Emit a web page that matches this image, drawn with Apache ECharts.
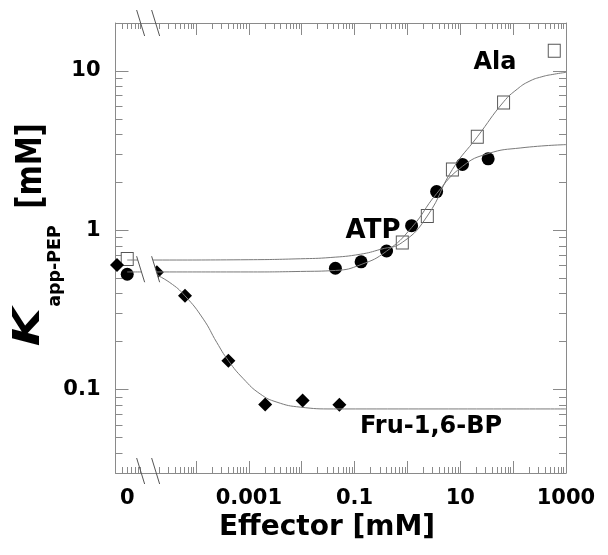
<!DOCTYPE html>
<html><head><meta charset="utf-8">
<script src="https://cdn.jsdelivr.net/npm/echarts@6/dist/echarts.min.js"></script>
<style>html,body{margin:0;padding:0;background:#fff}#c{width:608px;height:555px}</style>
</head><body><div id="c"></div>
<script>
// position used for "effector = 0" on the broken log axis
const ZERO_X = 5e-6;
const FRU_ZERO_X = 3.2e-6;

// tick labels
const xTickValues = [ZERO_X, 0.001, 0.1, 10, 1000];
const xTickText = ['0', '0.001', '0.1', '10', '1000'];
const xMajorTicks = [1e-4, 1e-3, 1e-2, 0.1, 1, 10, 100, 1000];
const yTickValues = [0.1, 1, 10];
const yTickText = ['0.1', '1', '10'];
const yMajorTicks = [0.1, 1, 10];

// measured points
const alaX = [ZERO_X, 0.80, 2.38, 7.1, 21, 66, 600];
const alaY = [0.66, 0.838, 1.23, 2.41, 3.86, 6.35, 13.4];
const atpX = [ZERO_X, 0.0434, 0.133, 0.403, 1.2, 3.57, 11, 33.7];
const atpY = [0.53, 0.578, 0.634, 0.742, 1.07, 1.75, 2.59, 2.81];
const fruX = [FRU_ZERO_X, 1.82e-5, 6.2e-5, 4.1e-4, 2.04e-3, 0.0104, 0.0516];
const fruY = [0.606, 0.546, 0.388, 0.152, 0.0807, 0.0855, 0.0803];

// fitted curves
const alaCurveX = [ZERO_X, 1.6e-5, 1e-3, 9.5e-3, 0.0346, 0.129, 0.31, 0.80, 2.38, 7.1, 21, 66, 120, 200, 350, 600, 1000];
const alaCurveY = [0.651, 0.651, 0.654, 0.663, 0.675, 0.708, 0.76, 0.84, 1.23, 2.41, 3.86, 6.4, 7.7, 8.6, 9.2, 9.55, 9.8];
const atpCurveX = [ZERO_X, 1.6e-5, 1e-3, 9.5e-3, 0.0434, 0.133, 0.403, 1.2, 3.57, 11, 33.7, 140, 1000];
const atpCurveY = [0.548, 0.548, 0.548, 0.552, 0.56, 0.61, 0.74, 1.04, 1.70, 2.52, 3.03, 3.29, 3.45];
const fruCurveX = [1.6e-5, 3.2e-5, 6.19e-5, 1.38e-4, 2.47e-4, 4.1e-4, 7.9e-4, 1.64e-3, 3.4e-3, 9.4e-3, 0.04, 1000];
const fruCurveY = [0.535, 0.47, 0.388, 0.277, 0.198, 0.152, 0.117, 0.094, 0.0835, 0.0777, 0.0757, 0.0757];

const FONT = 'DejaVu Sans';
const AXIS_COLOR = '#8a8a8a';
const LINE_COLOR = '#7a7a7a';
const X_MIN = 3e-6, X_MAX = 1001, Y_MIN = 0.03, Y_MAX = 20;

function pairs(xs, ys) { return xs.map((x, i) => [x, ys[i]]); }
function minorTicks(lo, hi) {
  const out = [];
  for (let k = -7; k <= 3; k++) for (let m = 2; m <= 9; m++) {
    const v = +(m * Math.pow(10, k)).toPrecision(6);
    if (v > lo * 1.0001 && v < hi * 0.9999) out.push(v);
  }
  return out;
}
function nearestText(values, texts) {
  return v => {
    let best = 0;
    values.forEach((t, i) => {
      if (Math.abs(Math.log10(v) - Math.log10(t)) < Math.abs(Math.log10(v) - Math.log10(values[best]))) best = i;
    });
    return texts[best];
  };
}
const xMinor = minorTicks(X_MIN, X_MAX);
const yMinor = minorTicks(Y_MIN, Y_MAX);

const labelStyle = { fontFamily: FONT, fontWeight: 'bold', fontSize: 21, color: '#000' };

function xAxisDef(pos, major) {
  return {
    type: 'log', logBase: 10, min: X_MIN, max: X_MAX, gridIndex: 0, position: pos,
    splitLine: { show: false },
    axisLine: { show: major, lineStyle: { color: AXIS_COLOR, width: 1 } },
    axisTick: { show: true, inside: true, length: major ? 12 : 6,
      customValues: major ? xMajorTicks : xMinor, lineStyle: { color: AXIS_COLOR, width: 1 } },
    axisLabel: (major && pos === 'bottom') ? Object.assign({ show: true, customValues: xTickValues,
      formatter: nearestText(xTickValues, xTickText), margin: 15 }, labelStyle) : { show: false }
  };
}
function yAxisDef(pos, major) {
  return {
    type: 'log', logBase: 10, min: Y_MIN, max: Y_MAX, gridIndex: 0, position: pos,
    splitLine: { show: false },
    axisLine: { show: major, lineStyle: { color: AXIS_COLOR, width: 1 } },
    axisTick: { show: true, inside: true, length: major ? 13 : 7,
      customValues: major ? yMajorTicks : yMinor, lineStyle: { color: AXIS_COLOR, width: 1 } },
    axisLabel: (major && pos === 'left') ? Object.assign({ show: true, customValues: yTickValues,
      formatter: nearestText(yTickValues, yTickText), margin: 15 }, labelStyle) : { show: false }
  };
}

const fitLine = { type: 'line', symbol: 'none', smooth: 0.5, lineStyle: { color: LINE_COLOR, width: 1 } };

const chart = echarts.init(document.getElementById('c'), null, { renderer: 'canvas' });
chart.setOption({
  animation: false,
  backgroundColor: '#fff',
  grid: { left: 115.5, right: 42, top: 23, bottom: 82, containLabel: false, outerBoundsMode: 'none' },
  xAxis: [xAxisDef('bottom', true), xAxisDef('bottom', false), xAxisDef('top', true), xAxisDef('top', false)],
  yAxis: [yAxisDef('left', true), yAxisDef('left', false), yAxisDef('right', true), yAxisDef('right', false)],
  series: [
    Object.assign({ name: 'Ala fit', data: pairs(alaCurveX, alaCurveY) }, fitLine),
    Object.assign({ name: 'ATP fit', data: pairs(atpCurveX, atpCurveY) }, fitLine),
    Object.assign({ name: 'Fru fit', data: pairs(fruCurveX, fruCurveY) }, fitLine),
    { name: 'Ala', type: 'scatter', data: pairs(alaX, alaY), symbol: 'rect', symbolSize: [12, 13],
      itemStyle: { color: '#fff', borderColor: '#555', borderWidth: 1, opacity: 1 }, clip: false },
    { name: 'ATP', type: 'scatter', data: pairs(atpX, atpY), symbol: 'circle', symbolSize: 13,
      itemStyle: { color: '#000', opacity: 1 }, clip: false },
    { name: 'Fru-1,6-BP', type: 'scatter', data: pairs(fruX, fruY), symbol: 'diamond', symbolSize: 14,
      itemStyle: { color: '#000', opacity: 1 }, clip: false }
  ]
});

// axis-break marks, positioned from the scales
const bx = chart.convertToPixel({ xAxisIndex: 0 }, 1e-5);
const yTop = chart.convertToPixel({ yAxisIndex: 0 }, Y_MAX);
const yBot = chart.convertToPixel({ yAxisIndex: 0 }, Y_MIN);
const yMid = chart.convertToPixel({ yAxisIndex: 0 }, 0.57);
function slashPair(cy) {
  const h = 13, d = 4, c1 = bx - 2.5, c2 = bx + 12.5;
  return [
    { type: 'polygon', z: 100, silent: true,
      shape: { points: [[c1 - d, cy - h], [c2 - d, cy - h], [c2 + d, cy + h], [c1 + d, cy + h]] },
      style: { fill: '#fff', stroke: null } },
    { type: 'line', z: 101, silent: true, shape: { x1: c1 - d, y1: cy - h, x2: c1 + d, y2: cy + h },
      style: { stroke: '#555', lineWidth: 1 } },
    { type: 'line', z: 101, silent: true, shape: { x1: c2 - d, y1: cy - h, x2: c2 + d, y2: cy + h },
      style: { stroke: '#555', lineWidth: 1 } }
  ];
}
function slashes(cy) { return slashPair(cy).slice(1); }
function txt(text, x, y, size, extra) {
  return Object.assign({ type: 'text', x: x, y: y, z: 110, silent: true,
    style: { text: text, font: 'bold ' + size + 'px "' + FONT + '"', fill: '#000', align: 'center', verticalAlign: 'middle' } }, extra || {});
}
chart.setOption({
  graphic: [].concat(
    slashes(yTop), slashes(yBot - 2), slashPair(yMid),
    [
      txt('Ala', 495, 63, 24),
      txt('ATP', 373, 231, 26),
      txt('Fru-1,6-BP', 431, 427, 24),
      txt('Effector [mM]', 327, 528, 28),
      { type: 'text', x: 29, y: 327, z: 110, rotation: Math.PI / 2, scaleX: 1.3, silent: true,
        style: { text: 'K', font: 'italic bold 38px "' + FONT + '"', fill: '#000', align: 'center', verticalAlign: 'middle' } },
      { type: 'text', x: 55, y: 266, z: 110, rotation: Math.PI / 2, silent: true,
        style: { text: 'app-PEP', font: 'bold 17.5px "' + FONT + '"', fill: '#000', align: 'center', verticalAlign: 'middle' } },
      { type: 'text', x: 32, y: 166, z: 110, rotation: Math.PI / 2, scaleY: 1.25, silent: true,
        style: { text: '[mM]', font: 'bold 29px "' + FONT + '"', fill: '#000', align: 'center', verticalAlign: 'middle' } }
    ]
  )
});
</script>
</body></html>
